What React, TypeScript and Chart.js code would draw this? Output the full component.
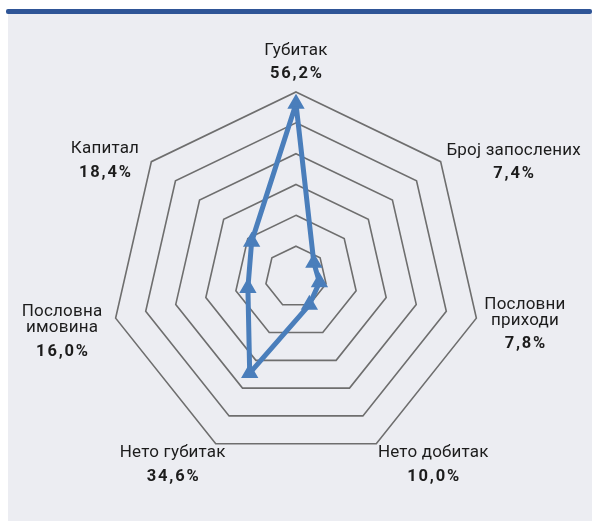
import React, { useEffect, useRef } from "react";
import { Chart, registerables } from "chart.js";

Chart.register(...registerables);

const categories: string[][] = [
  ["Губитак"],
  ["Број запослених"],
  ["Пословни", "приходи"],
  ["Нето добитак"],
  ["Нето губитак"],
  ["Пословна", "имовина"],
  ["Капитал"],
];
const values: number[] = [56.2, 7.4, 7.8, 10.0, 34.6, 16.0, 18.4];
const scaleMax = 60;
const scaleStep = 10;

// block-centre offsets of each label relative to its outer vertex
const LABEL_OFFSETS: [number, number][] = [
  [0, -29.5],
  [73, 0.5],
  [48.6, 6.3],
  [57, 21],
  [-43, 21],
  [-53.6, 13.8],
  [-46.4, -0.7],
];

const fmt = (v: number) => v.toFixed(1).replace(".", ",") + "%";

const labelPlugin = {
  id: "customLabels",
  afterDraw(chart: any) {
    const scale = chart.scales.r;
    const ctx: CanvasRenderingContext2D = chart.ctx;
    ctx.save();
    ctx.textAlign = "center";
    ctx.textBaseline = "middle";
    ctx.fillStyle = "#1c1c1c";
    categories.forEach((lines, i) => {
      const p = scale.getPointPosition(i, scale.drawingArea);
      const [dx, dy] = LABEL_OFFSETS[i];
      const cx = p.x + dx;
      const cy = p.y + dy;
      const nameLH = 16;
      const valGap = 23.5;
      const total = (lines.length - 1) * nameLH + valGap;
      let y = cy - total / 2;
      ctx.font = "17px Roboto";
      (ctx as any).letterSpacing = "0.2px";
      lines.forEach((ln, k) => {
        ctx.fillText(ln, cx, y + k * nameLH);
      });
      y += (lines.length - 1) * nameLH + valGap;
      ctx.font = "bold 16.5px Roboto";
      (ctx as any).letterSpacing = "1.8px";
      ctx.fillText(fmt(values[i]), cx + 0.9, y);
    });
    ctx.restore();
  },
};

export default function App() {
  const ref = useRef<HTMLCanvasElement | null>(null);
  useEffect(() => {
    if (!ref.current) return;
    const chart = new Chart(ref.current, {
      type: "radar",
      data: {
        labels: categories.map((c) => c.join(" ")),
        datasets: [
          {
            data: values,
            borderColor: "#4a7ebb",
            backgroundColor: "#4a7ebb",
            borderWidth: 5,
            fill: false,
            tension: 0,
            pointStyle: "triangle",
            pointRadius: 7.5,
            pointBorderWidth: 2.5,
            pointBackgroundColor: "#4a7ebb",
            pointBorderColor: "#4a7ebb",
            borderJoinStyle: "round",
          } as any,
        ],
      },
      options: {
        responsive: false,
        animation: false,
        layout: { padding: { top: 78, bottom: 59, left: 103, right: 111 } },
        plugins: { legend: { display: false }, tooltip: { enabled: false } },
        scales: {
          r: {
            min: 0,
            max: scaleMax,
            ticks: { display: false, stepSize: scaleStep },
            grid: { color: "#6e6e6e", lineWidth: 1.6 },
            angleLines: { display: false },
            pointLabels: { display: false },
          },
        },
      },
      plugins: [labelPlugin],
    });
    return () => chart.destroy();
  }, []);
  return (
    <div style={{ position: "fixed", left: 0, top: 0, width: 592, height: 521, background: "#fff" }}>
      <div style={{ position: "absolute", left: 6, top: 9, width: 586, height: 5, background: "#2f5597", borderRadius: 2 }} />
      <div style={{ position: "absolute", left: 8, top: 14, width: 584, height: 507, background: "#ecedf2" }}>
        <canvas ref={ref} width={584} height={507} style={{ display: "block" }} />
      </div>
    </div>
  );
}
